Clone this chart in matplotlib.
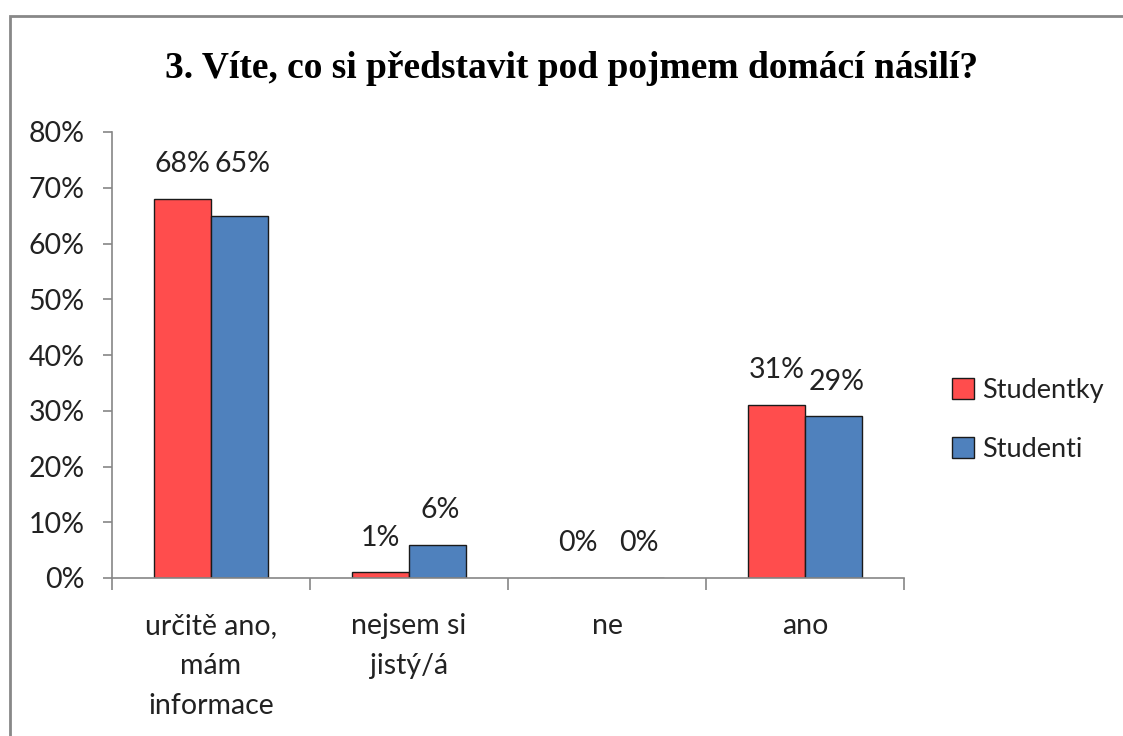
import matplotlib.pyplot as plt
from matplotlib.patches import Rectangle
import numpy as np

# data
kategorie = ["určitě ano,\nmám\ninformace", "nejsem si\njistý/á", "ne", "ano"]
studentky = [68, 1, 0, 31]
studenti = [65, 6, 0, 29]
serie = ["Studentky", "Studenti"]
barvy = ["#FF4D4D", "#4F81BD"]

plt.rcParams['font.family'] = ['Lato', 'DejaVu Sans']
fs = 20.5

fig = plt.figure(figsize=(11.23, 7.36), dpi=100)
ax = fig.add_axes([112 / 1123, 1 - 578 / 736, (904 - 112) / 1123, (578 - 132) / 736])

x = np.arange(len(kategorie))
w = 0.29
b1 = ax.bar(x - w / 2, studentky, w, color=barvy[0], edgecolor="#1a1a1a", linewidth=1.0, label=serie[0])
b2 = ax.bar(x + w / 2, studenti, w, color=barvy[1], edgecolor="#1a1a1a", linewidth=1.0, label=serie[1])

# popisky hodnot
for i in range(len(kategorie)):
    h1, h2 = studentky[i], studenti[i]
    if i == 0:
        h1 = h2 = max(h1, h2)
    ax.annotate(f"{studentky[i]}%", (x[i] - w / 2, h1), xytext=(0, 25), textcoords="offset points",
                ha="center", va="center", fontsize=fs, color="#222222")
    ax.annotate(f"{studenti[i]}%", (x[i] + w / 2, h2), xytext=(2, 25), textcoords="offset points",
                ha="center", va="center", fontsize=fs, color="#222222")

ax.set_xlim(-0.5, len(kategorie) - 0.5)
ax.set_ylim(0, 80)
ax.set_yticks(range(0, 81, 10))
ax.set_yticklabels([f"{v}%" for v in range(0, 81, 10)])
ax.set_xticks(x)
ax.set_xticklabels(kategorie, linespacing=1.68)
ax.set_xticks(np.arange(-0.5, len(kategorie), 1), minor=True)

for s in ["top", "right"]:
    ax.spines[s].set_visible(False)
for s in ["left", "bottom"]:
    ax.spines[s].set_color("#868686")
    ax.spines[s].set_linewidth(1.2)

ax.tick_params(axis="y", length=6.5, width=1.2, color="#868686", pad=13, labelsize=fs, labelcolor="#222222")
ax.tick_params(axis="x", which="major", length=0, pad=25, labelsize=fs, labelcolor="#222222")
ax.tick_params(axis="x", which="minor", length=8.5, width=1.2, color="#868686")

fig.text(572 / 1123, 1 - 68 / 736, "3. Víte, co si představit pod pojmem domácí násilí?",
         ha="center", va="center", fontsize=27, fontweight="bold",
         family=["Liberation Serif", "DejaVu Serif"])

leg = fig.legend(handles=[b1, b2], labels=serie, loc="center left",
                 bbox_to_anchor=(952 / 1123, 1 - 420 / 736), frameon=False,
                 borderpad=0, borderaxespad=0,
                 fontsize=19.5, handlelength=0.8, handleheight=0.8, handletextpad=0.3,
                 labelspacing=1.25, labelcolor="#222222")

fig.patches.append(Rectangle((10 / 1123, -0.1), 1.2, 1 - 16 / 736 + 0.1, transform=fig.transFigure,
                             fill=False, edgecolor="#888888", linewidth=2.0))

fig.savefig("out.png", dpi=100)
